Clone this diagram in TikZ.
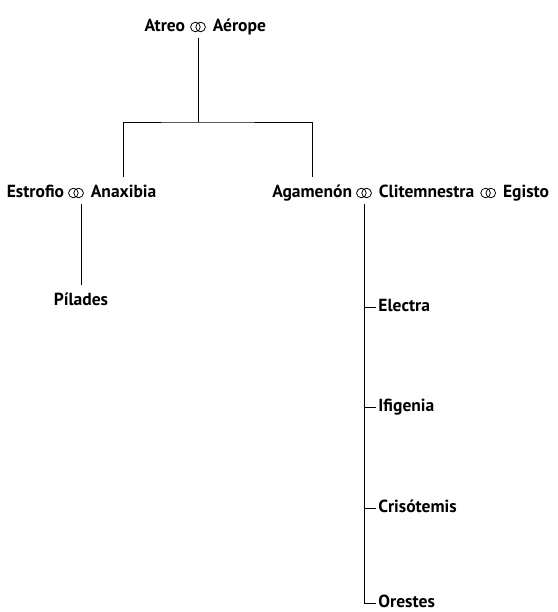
\documentclass[tikz,border=0pt]{standalone}
\usepackage{fontspec}
\setmainfont{PT Sans}
\usetikzlibrary{positioning}

\tikzset{
  person/.style={inner xsep=2pt, inner ysep=0pt, text height=12pt, text depth=3.5pt,
    outer ysep=8pt, font=\fontsize{17.5}{21}\selectfont\bfseries},
  wed/.style={minimum width=16pt, minimum height=12pt, inner sep=0pt, outer ysep=5pt,
    path picture={
      \draw[line width=0.8pt] ([xshift=-2.6pt]path picture bounding box.center) circle (4.8pt);
      \draw[line width=0.8pt] ([xshift=2.6pt]path picture bounding box.center) circle (4.8pt);
    }}
}

\begin{document}
\begin{tikzpicture}[x=1pt, y=-1pt, line width=0.9pt]
\useasboundingbox (0,0) rectangle (557,612);

% first generation
\node[wed] (r1) at (198,27) {};
\node[person, left=2pt of r1] (atreo) {Atreo};
\node[person, right=4pt of r1] (aerope) {Aérope};

% second generation
\node[wed] (r2) at (76,193) {};
\node[person, left=1pt of r2] (estrofio) {Estrofio};
\node[person, right=4pt of r2] (anaxibia) {Anaxibia};
\node[wed] (r3) at (364,193) {};
\node[person, left=1pt of r3] (agamenon) {Agamenón};
\node[person, right=4pt of r3] (clitemnestra) {Clitemnestra};
\node[wed, right=3pt of clitemnestra] (r4) {};
\node[person, right=4pt of r4] (egisto) {Egisto};

% third generation
\node[person] (pilades) at (81,301) {Pílades};
\node[person, anchor=west] (electra) at (376,307) {Electra};
\node[person, anchor=west] (ifigenia) at (376,407) {Ifigenia};
\node[person, anchor=west] (crisotemis) at (376,508) {Crisótemis};
\node[person, anchor=west] (orestes) at (376,603) {Orestes};

% lines
\coordinate (split) at (198,122);
\draw (r1.south) -- (split);
\draw (anaxibia.north) |- (split) -| (agamenon.north);
\draw (pilades.north) -- (pilades.north |- r2.south);
\draw (r3.south) |- (orestes.west);
\foreach \kid in {electra, ifigenia, crisotemis}
  \draw (r3.south |- \kid.west) -- (\kid.west);
\end{tikzpicture}
\end{document}
